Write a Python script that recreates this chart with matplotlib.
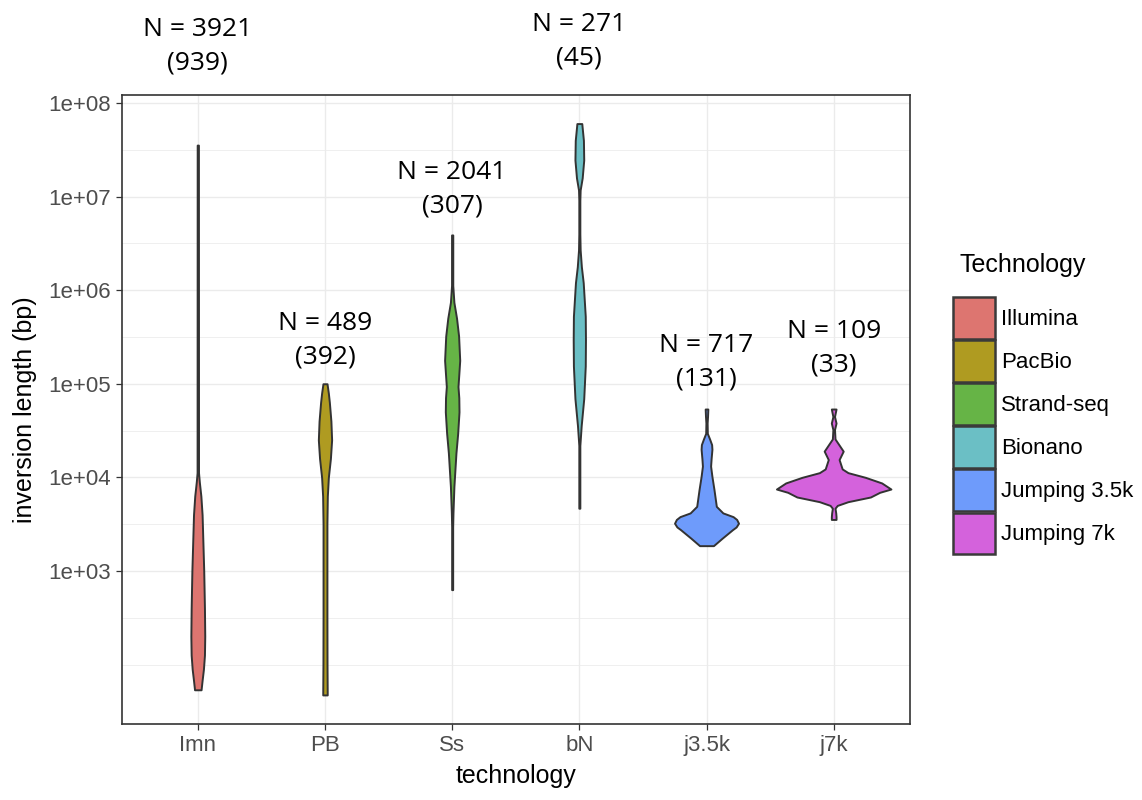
import numpy as np
import matplotlib
matplotlib.use('Agg')
from matplotlib import pyplot as plt
from matplotlib.patches import Patch
from matplotlib.ticker import FixedLocator, FuncFormatter, NullFormatter

plt.rcParams['font.family'] = ['Liberation Sans', 'DejaVu Sans']

short = ['Imn', 'PB', 'Ss', 'bN', 'j3.5k', 'j7k']
names = ['Illumina', 'PacBio', 'Strand-seq', 'Bionano', 'Jumping 3.5k', 'Jumping 7k']
colors = ['#DD7570', '#AF9B21', '#66B446', '#6BBFC5', '#6E9BFB', '#D462DC']
n_calls = [3921, 489, 2041, 271, 717, 109]
n_unique = [939, 392, 307, 45, 131, 33]

# violin outlines: log10(inversion length) from top to bottom, and relative density (half width)
imn_log = [7.55, 4.05, 3.95, 3.8, 3.6, 3.3, 3.0, 2.6, 2.3, 2.1, 1.95, 1.83, 1.73]
imn_w = [0.6, 0.7, 1.5, 3.0, 4.2, 5.0, 5.8, 6.5, 6.8, 6.5, 5.5, 4.2, 3.2]
pb_log = [5.0, 4.9, 4.8, 4.6, 4.4, 4.2, 4.0, 3.8, 3.5, 3.0, 2.5, 2.0, 1.675]
pb_w = [2.0, 3.3, 4.3, 5.8, 6.5, 5.3, 3.3, 2.3, 1.9, 1.9, 1.9, 2.0, 2.2]
ss_log = [6.59, 6.05, 5.87, 5.7, 5.51, 5.25, 5.1, 4.97, 4.85, 4.7, 4.47, 4.26, 3.9, 3.62, 3.47, 2.80]
ss_w = [0.6, 0.6, 1.7, 4.3, 6.3, 7.4, 6.5, 5.7, 6.5, 6.7, 5.4, 3.7, 1.7, 0.8, 0.5, 0.5]
bn_log = [7.78, 7.6, 7.39, 7.2, 7.07, 6.96, 6.6, 6.43, 6.25, 6.08, 5.72, 5.47, 5.19, 4.84, 4.55, 4.34, 3.67]
bn_w = [2.4, 4.0, 4.3, 2.8, 0.8, 0.5, 0.5, 0.8, 2.0, 3.8, 5.8, 6.0, 5.8, 4.3, 1.8, 0.5, 0.5]
j35_log = [4.73, 4.65, 4.58, 4.47, 4.41, 4.35, 4.30, 4.20, 4.12, 4.01, 3.87, 3.69, 3.62, 3.58, 3.55,
           3.51, 3.47, 3.44, 3.35, 3.27]
j35_w = [1.3, 1.0, 0.6, 0.8, 3.0, 5.0, 5.3, 4.5, 4.0, 5.3, 7.3, 9.6, 16, 26, 29.5, 31.3, 29, 25.3, 15.3, 6.8]
j7_log = [4.73, 4.65, 4.58, 4.51, 4.41, 4.35, 4.28, 4.19, 4.09, 4.05, 4.0, 3.94, 3.875, 3.84, 3.79,
          3.74, 3.70, 3.67, 3.62, 3.58, 3.55]
j7_w = [2.3, 0.8, 2.3, 0.8, 1.3, 5.0, 9.3, 5.3, 8.3, 14, 31, 47, 56, 45, 36, 14, 3.5, 1.3, 2.0, 2.3, 2.3]

profiles = [(imn_log, imn_w), (pb_log, pb_w), (ss_log, ss_w),
            (bn_log, bn_w), (j35_log, j35_w), (j7_log, j7_w)]

# where the "N = ..." line sits (log10 of its baseline)
label_log = [8.711, 5.575, 7.187, 8.764, 5.34, 5.49]

fig = plt.figure(figsize=(11.42, 8), dpi=100)
ax = fig.add_axes([121.5 / 1142, 1 - 723.5 / 800, 788.5 / 1142, 628.5 / 800])
ax.set_yscale('log')

wmax = max(max(w) for _, w in profiles)
for i, (lg, w) in enumerate(profiles):
    y = 10 ** np.array(lg)
    half = np.array(w) / wmax * 0.45
    ax.fill_betweenx(y, i + 1 - half, i + 1 + half, facecolor=colors[i],
                     edgecolor='#333333', linewidth=1.4, joinstyle='round', zorder=3)

# 5% expansion like ggplot
lo = min(min(lg) for lg, _ in profiles)
hi = max(max(lg) for lg, _ in profiles)
pad = (hi - lo) * 0.05
ax.set_ylim(10 ** (lo - pad), 10 ** (hi + pad))
ax.set_xlim(0.4, 6.6)

ax.yaxis.set_major_locator(FixedLocator(10.0 ** np.arange(3, 9)))
ax.yaxis.set_major_formatter(FuncFormatter(lambda v, p: f'{v:.0e}'))
ax.yaxis.set_minor_locator(FixedLocator(10.0 ** np.array([2, 2.5, 3.5, 4.5, 5.5, 6.5, 7.5])))
ax.yaxis.set_minor_formatter(NullFormatter())
ax.set_xticks(range(1, 7))
ax.set_xticklabels(short)

ax.grid(which='major', color='#EBEBEB', linewidth=1.0)
ax.grid(which='minor', axis='y', color='#EBEBEB', linewidth=0.55)
ax.set_axisbelow(True)
ax.tick_params(which='major', length=4, width=0.9, color='#333333',
               labelcolor='#4D4D4D', labelsize=16, pad=4)
ax.tick_params(which='minor', length=0)
for s in ax.spines.values():
    s.set_color('#333333')
    s.set_linewidth(1.2)

ax.set_xlabel('technology', fontsize=18, labelpad=6)
ax.set_ylabel('inversion length (bp)', fontsize=18, labelpad=8)

for i in range(6):
    ax.annotate(f'N = {n_calls[i]}', (i + 1, 10 ** label_log[i]), ha='center', va='baseline',
                fontsize=19, family=['Open Sans', 'DejaVu Sans'], annotation_clip=False)
    ax.annotate(f'({n_unique[i]})', (i + 1, 10 ** label_log[i]), xytext=(0, -24),
                textcoords='offset points', ha='center', va='baseline',
                fontsize=19, family=['Open Sans', 'DejaVu Sans'], annotation_clip=False)

fig.text(960 / 1142, 1 - 271.7 / 800, 'Technology', fontsize=18, va='baseline')
handles = [Patch(facecolor=c, edgecolor='#3A3A3A', linewidth=1.8) for c in colors]
fig.legend(handles, names, loc='upper left', bbox_to_anchor=(953 / 1142, 1 - 297 / 800),
           frameon=False, fontsize=16, handlelength=1.88, handleheight=2.53,
           labelspacing=0.05, handletextpad=0.3, borderpad=0, borderaxespad=0)

fig.savefig('out.png', dpi=100)
